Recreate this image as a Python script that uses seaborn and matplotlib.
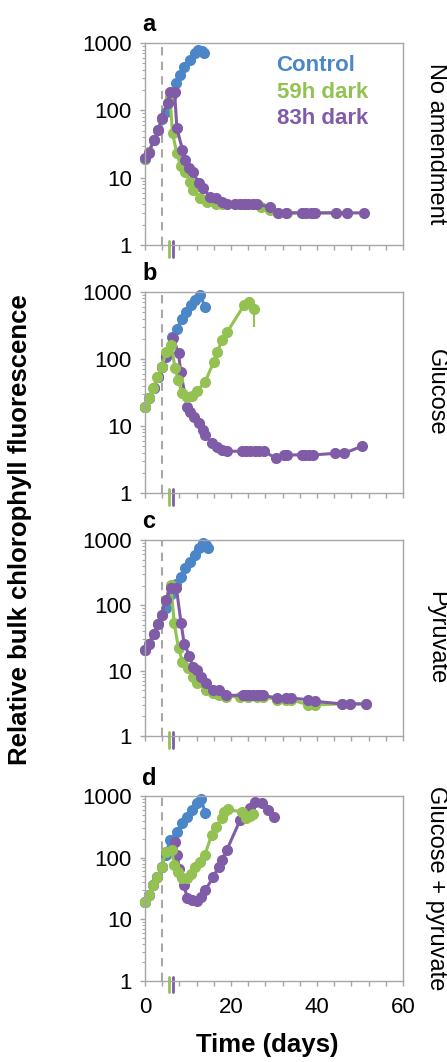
"""Bulk chlorophyll fluorescence after dark periods, four media panels."""

import matplotlib

matplotlib.use("Agg")

import matplotlib.pyplot as plt
import numpy as np
import pandas as pd
import seaborn as sns
from matplotlib.ticker import FixedLocator, FuncFormatter, LogLocator, NullFormatter

TREATMENTS = ["Control", "59h dark", "83h dark"]
COLORS = {"Control": "#4A86C8", "59h dark": "#93C152", "83h dark": "#7F5BA8"}
PANELS = ["a", "b", "c", "d"]
MEDIA = ["No amendment", "Glucose", "Pyruvate", "Glucose + pyruvate"]

LIGHT_OFF_DAY = 4.0
DARK_TREATMENTS = ["59h dark", "83h dark"]
DARK_END_DAY = [5.5, 6.5]

# panel a - no amendment
A_CTRL_DAY = [0, 0.9, 2, 3.1, 3.9, 4.9, 6.2, 7.2, 8.1, 9.1, 10.4, 11.6, 12.3, 13.3, 13.8]
A_CTRL_VAL = [19, 24, 36, 51, 75, 95, 170, 255, 335, 445, 560, 710, 790, 750, 700]
A_59_DAY = [0, 0.9, 2, 3.1, 3.9, 5.3, 5.8, 6.4, 7.4, 8.3, 9.3, 10.5, 11.2, 12.8, 14.4,
            16.5, 18, 21, 23, 25, 27, 29, 31, 33, 36.5, 39, 44.5, 47]
A_59_VAL = [19, 24, 36, 51, 77, 130, 160, 46, 23, 15, 12, 8.6, 6.6, 5, 4.3,
            4, 4, 4, 4, 4, 3.7, 3.3, 3, 3, 3, 3, 3, 3]
A_83_DAY = [0, 0.9, 2, 3.1, 3.9, 5.3, 5.9, 6.9, 7.4, 8.7, 9.4, 10.3, 11.1, 12.6, 13.4,
            15.1, 16.5, 18, 19, 21, 22, 23, 24, 25, 26, 29, 31, 32.7, 36.5, 37.5,
            38.5, 39.5, 44.5, 47, 51]
A_83_VAL = [19.6, 23, 36, 51, 77, 130, 190, 185, 55, 26, 18, 14, 12, 8.3, 7,
            5.2, 5, 4.3, 4, 4, 4, 4, 4, 4, 4, 3.7, 3, 3, 3, 3,
            3, 3, 3, 3, 3]

# panel b - glucose
B_CTRL_DAY = [0, 1, 2, 3, 4, 4.9, 6.2, 7.5, 8.5, 9.5, 10.6, 11.6, 12.8, 14]
B_CTRL_VAL = [19.5, 26, 37, 54, 76, 108, 214, 285, 400, 505, 630, 755, 890, 600]
B_59_DAY = [0, 0.9, 1.9, 2.9, 3.9, 4.9, 6.1, 7.0, 7.7, 8.6, 9.8, 10.9, 12.1, 14,
            16, 16.8, 17.9, 19.1, 23, 24.1, 25.3]
B_59_VAL = [19.5, 26, 37, 54, 76, 128, 161, 73, 49, 31, 27, 28, 33, 46,
            91, 128, 190, 252, 630, 710, 565]
B_83_DAY = [0, 1, 2, 3, 4, 4.9, 6.6, 7.8, 8.3, 9.8, 10.5, 11.5, 12.5, 13.6, 14,
            15.6, 16.8, 17.9, 19.1, 22.5, 23.5, 24.5, 25.5, 26.5, 27.7, 30.4, 32.3,
            33, 36.4, 37.3, 38.2, 39, 44.2, 46.2, 50.5]
B_83_VAL = [19.5, 26, 37, 54, 76, 110, 204, 121, 65, 19.5, 16.4, 13.8, 11, 8.7, 7.4,
            5.5, 4.9, 4.4, 4.2, 4.2, 4.2, 4.2, 4.2, 4.2, 4.2, 3.3, 3.7,
            3.7, 3.7, 3.7, 3.7, 3.7, 3.9, 3.9, 5.0]
B_ERR_DAY = [25.3]
B_ERR_LOW = [300]
B_ERR_HIGH = [565]

# panel c - pyruvate
C_CTRL_DAY = [0, 0.9, 2.1, 3, 3.9, 4.8, 6, 7.2, 8.4, 9.4, 10.5, 11.6, 12.6, 13.4, 14.3, 14.7]
C_CTRL_VAL = [20.8, 26, 37, 52, 71, 91, 150, 210, 275, 370, 465, 590, 745, 890, 835, 745]
C_59_DAY = [0, 0.9, 2.1, 3, 3.9, 4.8, 6, 6.8, 7.8, 8.7, 9.9, 11.1, 12.2, 14.2, 15.9,
            17.3, 18.9, 22, 24, 26, 27.4, 30.8, 32.7, 34, 37.9, 39.5, 45.7, 47.7, 51.4]
C_59_VAL = [20.8, 26, 37, 52, 71, 120, 205, 53, 22, 13.8, 10.9, 8.1, 6.4, 5.1, 4.5,
            4.2, 4, 4, 4, 4, 4, 3.6, 3.6, 3.6, 3, 3, 3.1, 3.1, 3.1]
C_83_DAY = [0, 0.9, 2.1, 3, 3.9, 4.8, 6, 7.3, 8.4, 9.1, 10.3, 11.1, 12.2, 13, 14.2,
            15.9, 17.3, 18.9, 22.7, 23.5, 24.3, 25.1, 26, 26.7, 27.4, 30.8, 32.7,
            34, 37.9, 39.5, 45.7, 47.7, 51.4]
C_83_VAL = [20.8, 26, 37, 52, 71, 120, 182, 182, 53, 26, 17, 11.5, 10.2, 8.1, 6.4,
            5.1, 5, 4.2, 4.2, 4.2, 4.2, 4.2, 4.2, 4.2, 4.2, 3.8, 3.8,
            3.8, 3.6, 3.4, 3.1, 3.1, 3.1]

# panel d - glucose + pyruvate
D_CTRL_DAY = [0, 0.9, 1.9, 2.9, 3.9, 4.8, 5.8, 7.5, 8.6, 9.8, 11, 12.1, 13.1, 14]
D_CTRL_VAL = [19.1, 24.6, 36, 49, 71, 110, 192, 262, 360, 460, 590, 760, 880, 525]
D_59_DAY = [0, 0.9, 1.9, 2.9, 3.9, 4.8, 6.2, 6.8, 7.6, 8.5, 9.7, 10.7, 11.6, 12.8,
            13.9, 15.5, 16.6, 17.8, 18.4, 19.4, 22.5, 23.6, 24.4, 25.2]
D_59_VAL = [19.1, 24.6, 36, 49, 71, 124, 135, 76, 59, 46, 46, 55, 71, 85,
            110, 233, 317, 433, 550, 605, 550, 433, 470, 520]
D_83_DAY = [0, 0.9, 1.9, 2.9, 3.9, 4.8, 7, 7.5, 8, 9.1, 9.8, 11, 12.1, 13.1, 14,
            15.9, 17.1, 17.8, 19, 22.1, 23.2, 24.4, 25.5, 27.1, 28.6, 30]
D_83_VAL = [19.1, 24.6, 36, 49, 71, 124, 181, 110, 66, 36, 22, 20.4, 20, 23, 29.5,
            49, 71, 91, 132, 405, 460, 630, 810, 770, 590, 460]

SERIES = {
    "a": [(A_CTRL_DAY, A_CTRL_VAL), (A_59_DAY, A_59_VAL), (A_83_DAY, A_83_VAL)],
    "b": [(B_CTRL_DAY, B_CTRL_VAL), (B_59_DAY, B_59_VAL), (B_83_DAY, B_83_VAL)],
    "c": [(C_CTRL_DAY, C_CTRL_VAL), (C_59_DAY, C_59_VAL), (C_83_DAY, C_83_VAL)],
    "d": [(D_CTRL_DAY, D_CTRL_VAL), (D_59_DAY, D_59_VAL), (D_83_DAY, D_83_VAL)],
}
# which dark treatment is drawn on top
DRAW_ORDER = {
    "a": ["Control", "59h dark", "83h dark"],
    "b": ["Control", "83h dark", "59h dark"],
    "c": ["Control", "59h dark", "83h dark"],
    "d": ["Control", "83h dark", "59h dark"],
}

# axes boxes in pixels: left, right, top, bottom
W, H = 447, 1062
BOXES = [(145, 403, 43, 245), (145, 403, 292, 493), (145, 403, 540, 736), (145, 403, 796, 981)]
SPINE = "#A6A6A6"


def long_frame() -> pd.DataFrame:
    rows = []
    for panel in PANELS:
        for treatment, (days, values) in zip(TREATMENTS, SERIES[panel]):
            for day, value in zip(days, values):
                rows.append({"panel": panel, "treatment": treatment, "day": day, "rfu": value})
    return pd.DataFrame(rows)


def style_axis(ax: plt.Axes, show_xlabels: bool) -> None:
    ax.set_yscale("log")
    ax.set_ylim(1, 1000)
    ax.set_xlim(0, 60)
    ax.yaxis.set_major_locator(FixedLocator([1, 10, 100, 1000]))
    ax.yaxis.set_major_formatter(FuncFormatter(lambda v, _: f"{v:g}"))
    ax.yaxis.set_minor_locator(LogLocator(base=10, subs=np.arange(2, 10)))
    ax.yaxis.set_minor_formatter(NullFormatter())
    ax.xaxis.set_major_locator(FixedLocator(np.arange(0, 61, 4)))
    ax.xaxis.set_major_formatter(
        FuncFormatter(lambda v, _: f"{v:g}" if show_xlabels and round(v) % 20 == 0 else "")
    )
    for spine in ax.spines.values():
        spine.set_color(SPINE)
        spine.set_linewidth(1.0)
        spine.set_visible(True)
    ax.tick_params(axis="both", which="major", direction="out", length=3.5, width=1,
                   color=SPINE, labelsize=16, labelcolor="black")
    ax.tick_params(axis="y", which="major", pad=6)
    ax.tick_params(axis="x", which="major", pad=8)
    ax.tick_params(axis="y", which="minor", direction="out", length=2.2, width=0.8, color=SPINE)
    ax.set_xlabel("")
    ax.set_ylabel("")


def main() -> None:
    sns.set_theme(style="ticks")
    plt.rcParams["font.family"] = ["Liberation Sans", "DejaVu Sans"]
    plt.rcParams["text.color"] = "black"
    data = long_frame()

    fig = plt.figure(figsize=(W / 100, H / 100), dpi=100)
    for i, (panel, medium) in enumerate(zip(PANELS, MEDIA)):
        left, right, top, bottom = BOXES[i]
        ax = fig.add_axes([left / W, 1 - bottom / H, (right - left) / W, (bottom - top) / H])
        ax.axvline(LIGHT_OFF_DAY, color="#A8A8A8", linestyle=(0, (4, 3)), linewidth=1.5, zorder=0.5)
        sns.lineplot(
            data=data[data["panel"] == panel],
            x="day",
            y="rfu",
            hue="treatment",
            hue_order=DRAW_ORDER[panel],
            palette=COLORS,
            estimator=None,
            sort=False,
            marker="o",
            markersize=8,
            markeredgewidth=0,
            linewidth=2.2,
            legend=False,
            ax=ax,
        )
        for line in ax.lines:
            line.set_clip_on(False)
        if panel == "b":
            ax.vlines(B_ERR_DAY, B_ERR_LOW, B_ERR_HIGH, color=COLORS["59h dark"], linewidth=1.5)
        for treatment, day in zip(DARK_TREATMENTS, DARK_END_DAY):
            ax.axvline(day, ymin=-0.06, ymax=0.02, color=COLORS[treatment], linewidth=2,
                       clip_on=False)
        style_axis(ax, show_xlabels=(panel == "d"))
        ax.text(-0.01, 1.06, panel, transform=ax.transAxes, fontsize=17, fontweight="bold",
                ha="left", va="baseline")
        ax.text(1.128, 0.5, medium, transform=ax.transAxes, rotation=270, fontsize=17,
                ha="center", va="center", color="black")
        if panel == "a":
            for treatment, y in zip(TREATMENTS, [0.89, 0.755, 0.625]):
                ax.text(0.51, y, treatment, transform=ax.transAxes, color=COLORS[treatment],
                        fontsize=16, fontweight="bold", ha="left", va="center")

    fig.text(0.045, 0.501, "Relative bulk chlorophyll fluorescence", rotation=90,
             fontsize=18.5, fontweight="bold", ha="center", va="center", color="black")
    fig.text(0.597, 0.016, "Time (days)", fontsize=18.5, fontweight="bold",
             ha="center", va="center", color="black")
    fig.savefig("out.png", dpi=100)
    plt.close(fig)


if __name__ == "__main__":
    main()
